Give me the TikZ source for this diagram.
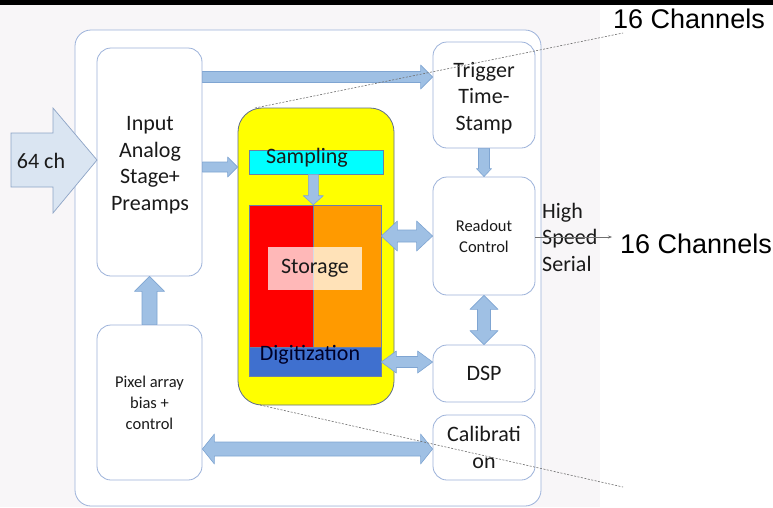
\documentclass[tikz,border=0pt]{standalone}
\usepackage{fontspec}
\setmainfont{Carlito}
\newfontfamily\arialfont{Liberation Sans}
\usetikzlibrary{calc,arrows.meta}

\definecolor{pagegrey}{HTML}{F8F6F8}
\definecolor{boxline}{HTML}{9CB2DA}
\definecolor{arrowfill}{HTML}{9FC0E4}
\definecolor{arrowline}{HTML}{7FA5D2}
\definecolor{bigarrowfill}{HTML}{DAE5F2}
\definecolor{bigarrowline}{HTML}{8DA4C6}
\definecolor{chipyellow}{HTML}{FFFF00}
\definecolor{chipline}{HTML}{5E6C8C}
\definecolor{samplecyan}{HTML}{00FFFF}
\definecolor{cellred}{HTML}{FF0000}
\definecolor{cellorange}{HTML}{FF9A00}
\definecolor{digiblue}{HTML}{3F70CF}
\definecolor{cellline}{HTML}{6A7FA8}
\definecolor{txt}{HTML}{1A1A1A}
\definecolor{guide}{HTML}{707070}

% horizontal block arrow: tail #1, tip #2 (same y as tail), half shaft #3, half head #4, head length #5
\newcommand{\blockH}[5]{%
  \filldraw[blockarrow] let \p1=(#1), \p2=(#2), \n1={ifthenelse(\x2>\x1,1,-1)*#5} in
    (\x1,\y1+#3) -- (\x2-\n1,\y1+#3) -- (\x2-\n1,\y1+#4) -- (\x2,\y1)
    -- (\x2-\n1,\y1-#4) -- (\x2-\n1,\y1-#3) -- (\x1,\y1-#3) -- cycle;}
% vertical block arrow: tail #1, tip #2 (same x as tail)
\newcommand{\blockV}[5]{%
  \filldraw[blockarrow] let \p1=(#1), \p2=(#2), \n1={ifthenelse(\y2>\y1,1,-1)*#5} in
    (\x1+#3,\y1) -- (\x1+#3,\y2-\n1) -- (\x1+#4,\y2-\n1) -- (\x1,\y2)
    -- (\x1-#4,\y2-\n1) -- (\x1-#3,\y2-\n1) -- (\x1-#3,\y1) -- cycle;}
% horizontal double-headed block arrow from #1 (left) to #2 (right)
\newcommand{\blockHH}[5]{%
  \filldraw[blockarrow] let \p1=(#1), \p2=(#2) in
    (\x1,\y1) -- (\x1+#5,\y1+#4) -- (\x1+#5,\y1+#3) -- (\x2-#5,\y1+#3) -- (\x2-#5,\y1+#4)
    -- (\x2,\y1) -- (\x2-#5,\y1-#4) -- (\x2-#5,\y1-#3) -- (\x1+#5,\y1-#3) -- (\x1+#5,\y1-#4) -- cycle;}
% vertical double-headed block arrow from #1 (top) to #2 (bottom)
\newcommand{\blockVV}[5]{%
  \filldraw[blockarrow] let \p1=(#1), \p2=(#2) in
    (\x1,\y1) -- (\x1+#4,\y1-#5) -- (\x1+#3,\y1-#5) -- (\x1+#3,\y2+#5) -- (\x1+#4,\y2+#5)
    -- (\x1,\y2) -- (\x1-#4,\y2+#5) -- (\x1-#3,\y2+#5) -- (\x1-#3,\y1-#5) -- (\x1-#4,\y1-#5) -- cycle;}

\tikzset{
  blockarrow/.style={fill=arrowfill, draw=arrowline, line width=0.6pt, line join=round},
  box/.style={draw=boxline, line width=0.8pt, fill=white, rounded corners=14pt,
    inner sep=0pt, align=center, text=txt},
  bigtext/.style={font=\fontsize{22}{26.5}\selectfont},
  smalltext/.style={font=\fontsize{16.5}{21}\selectfont},
  boxtext/.style={inner sep=0pt, align=center, text=txt},
  cell/.style={draw=cellline, line width=0.6pt, inner sep=0pt},
  guideline/.style={draw=guide, line width=0.6pt, dash pattern=on 2pt off 1.5pt},
}

\begin{document}
\begin{tikzpicture}[x=1pt, y=-1pt]
  \useasboundingbox (0,0) rectangle (773,507);
  % page background and top rule
  \fill[white] (0,0) rectangle (773,507);
  \fill[pagegrey] (0,0) rectangle (600,507);
  \fill[black] (0,0) rectangle (773,5);

  % enclosing board outline
  \node[box, rounded corners=16pt, minimum width=466pt, minimum height=476pt] (board) at (308,268) {};

  % left column
  \node[box, minimum width=105pt, minimum height=228pt] (in) at (149.5,162) {};
  \node[boxtext, bigtext] (intext) at (150,165) {Input\\Analog\\Stage+\\Preamps};
  \node[box, smalltext, minimum width=105pt, minimum height=155pt] (pix) at (149.5,402.5)
    {Pixel array\\bias +\\control};

  % right column
  \node[box, minimum width=102pt, minimum height=106pt] (trig) at (484,95) {};
  \node[boxtext, bigtext] (trigtext) at (484,98) {Trigger\\Time-\\Stamp};
  \node[box, smalltext, minimum width=102pt, minimum height=118pt] (rd) at (484,236)
    {Readout\\Control};
  \node[box, bigtext, minimum width=102pt, minimum height=57pt] (dsp) at (484,373.5) {DSP};
  \node[box, bigtext, minimum width=102pt, minimum height=65pt] (cal) at (484,447.5)
    {Calibrati\\on};

  % the chip
  \node[draw=chipline, line width=0.8pt, fill=chipyellow, rounded corners=24pt, inner sep=0pt,
    minimum width=156pt, minimum height=297pt] (chip) at (316,256.5) {};
  \node[cell, fill=samplecyan, minimum width=134pt, minimum height=24pt] (samp) at (316,162) {};
  \node[bigtext, text=txt, inner sep=0pt] (samptext) at (307,158) {Sampling};
  \node[cell, fill=cellred, minimum width=64pt, minimum height=142pt] (red) at (281,276) {};
  \node[cell, fill=cellorange, minimum width=68pt, minimum height=142pt] (ora) at (347,276) {};
  \node[fill=white, fill opacity=0.72, text opacity=1, bigtext, text=txt, inner sep=0pt,
    minimum width=94pt, minimum height=43pt] (stor) at (315,268.5) {Storage};
  \node[cell, fill=digiblue, minimum width=132pt, minimum height=29pt] (dig) at (315,361.5) {};
  \node[bigtext, text=black!85!blue, inner sep=0pt] (digtext) at (310,355) {Digitization};

  % input block arrow
  \coordinate (bigtip) at (97,160);
  \filldraw[fill=bigarrowfill, draw=bigarrowline, line width=0.7pt, line join=miter]
    (11,133) -- (53,133) -- (53,108) -- (bigtip) -- (53,213) -- (53,187) -- (11,187) -- cycle;
  \node[bigtext, text=txt, inner sep=0pt] (inlabel) at (41,161) {64 ch};

  % helper levels for the block arrows
  \coordinate (ytop) at (0,77);
  \coordinate (yin) at (0,167);
  \coordinate (ydig) at (0,362);
  \coordinate (ycal) at (0,449);

  \blockH{in.east |- ytop}{trig.west |- ytop}{5.5}{12}{12}
  \blockH{in.east |- yin}{chip.west |- yin}{5}{10}{10}
  \blockV{pix.north}{in.south}{7.5}{15}{15}
  \blockV{samp.south -| red.north east}{red.north east}{5}{10}{9}
  \blockV{trig.south}{rd.north}{5.5}{7.5}{8}
  \blockHH{ora.east |- rd.west}{rd.west}{6}{15}{16}
  \blockVV{rd.south}{dsp.north}{6.5}{14}{14}
  \blockHH{dig.east |- ydig}{dsp.west |- ydig}{5.5}{11}{15}
  \blockHH{pix.east |- ycal}{cal.west |- ycal}{7}{15}{12}

  % serial output
  \node[bigtext, text=txt, align=left, inner sep=0pt, anchor=west] (hss) at (542,237)
    {High\\Speed\\Serial};
  \coordinate (outtip) at (612,237);
  \draw[guide, line width=0.6pt, -{Stealth[length=4pt,width=3pt]}] (rd.east |- outtip) -- (outtip);
  \node[font=\arialfont\fontsize{27}{30}\selectfont, text=black, inner sep=0pt, anchor=west]
    (ch2) at (620,244) {16 Channels};
  \node[font=\arialfont\fontsize{27}{30}\selectfont, text=black, inner sep=0pt, anchor=west]
    (ch1) at (613,19) {16 Channels};

  % zoom guides from the chip
  \coordinate (g1) at (623,33);
  \coordinate (g2) at (623,487);
  \draw[guideline] (255,108) -- (g1);
  \draw[guideline] (260,405) -- (g2);
\end{tikzpicture}
\end{document}
